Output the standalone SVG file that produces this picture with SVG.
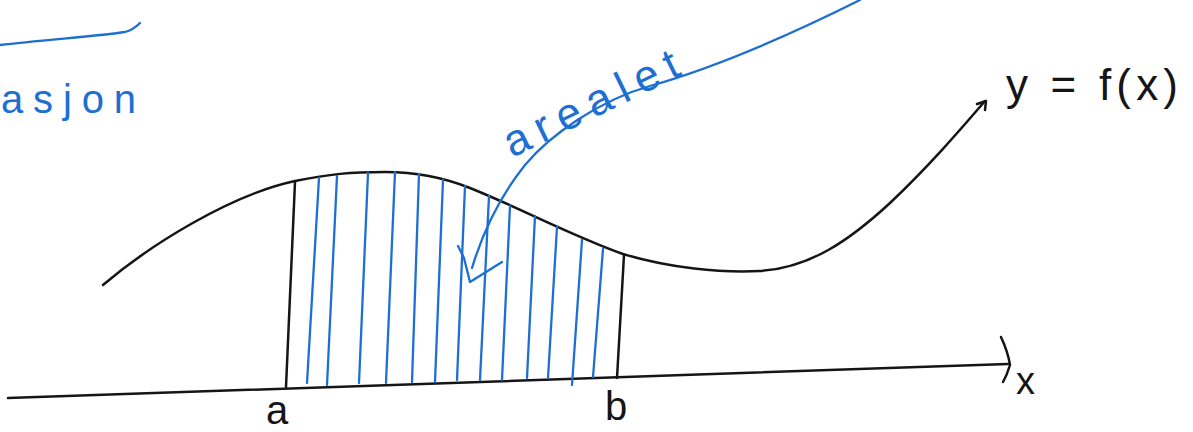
<svg xmlns="http://www.w3.org/2000/svg" width="1193" height="432" viewBox="0 0 1193 432">
<style>
.ink{fill:none;stroke:#151515;stroke-width:2.5;stroke-linecap:round;stroke-linejoin:round}
.blue{fill:none;stroke:#1d6fd2;stroke-width:2.3;stroke-linecap:round;stroke-linejoin:round}
.tb{fill:#1d6fd2;font-family:"Liberation Sans",Arial,sans-serif}
.tk{fill:#151515;font-family:"Liberation Sans",Arial,sans-serif}
</style>
<rect width="1193" height="432" fill="#ffffff"/>
<g id="connectors">
<path id="axis" class="ink" d="M8,398 L1008,364"/>
<path id="axis-head" class="ink" d="M1001,337 Q1008,352 1010,365 Q1007,375 1003,382"/>
<path id="curve" class="ink" d="M103,285 C150,245 230,195 295,181 C330,174 350,172 385,172 C420,172 450,180 470,188 C520,208 570,235 623,254 C670,268 720,273 760,271 C810,268 850,240 890,203 C930,165 960,130 985,101"/>
<path id="curve-head" class="ink" d="M977,104 L986,101 L985,110"/>
<path id="pointer" class="blue" d="M860,0 C800,30 720,66 650,86 C600,100 550,135 525,165 C505,190 485,225 472,268"/>
<path id="pointer-head" class="blue" d="M458,246 L464,258 L470,282 L502,262"/>
<path id="underline" class="blue" d="M0,45 C40,40 100,36 125,32 Q133,30 140,23"/>
</g>
<g id="bounds">
<path class="ink" d="M295,182 L286,387"/>
<path class="ink" d="M624,255 L617,378"/>
</g>
<g id="hatching" class="blue">
<path d="M319,178 L307,383"/>
<path d="M337,176 L327,385"/>
<path d="M368,173 L359,383"/>
<path d="M395,172 L386,383"/>
<path d="M419,174 L412,382"/>
<path d="M443,180 L435,382"/>
<path d="M465,186 L457,380"/>
<path d="M489,196 L480,380"/>
<path d="M510,206 L502,380"/>
<path d="M535,216 L527,378"/>
<path d="M557,227 L548,378"/>
<path d="M582,240 L572,385"/>
<path d="M603,249 L593,377"/>
</g>
<g id="label-asjon"><text class="tb" x="1" y="113" font-size="40" textLength="135" lengthAdjust="spacing">asjon</text></g>
<g id="label-arealet"><text class="tb" transform="translate(512,158) rotate(-26)" font-size="44" textLength="190" lengthAdjust="spacing">arealet</text></g>
<g id="label-fx"><text class="tk" x="1006" y="100" font-size="44" textLength="172" lengthAdjust="spacing">y = f(x)</text></g>
<g id="label-a"><text class="tk" x="266" y="424" font-size="40">a</text></g>
<g id="label-b"><text class="tk" x="605" y="420" font-size="40">b</text></g>
<g id="label-x"><text class="tk" x="1016" y="394" font-size="38">x</text></g>
</svg>
